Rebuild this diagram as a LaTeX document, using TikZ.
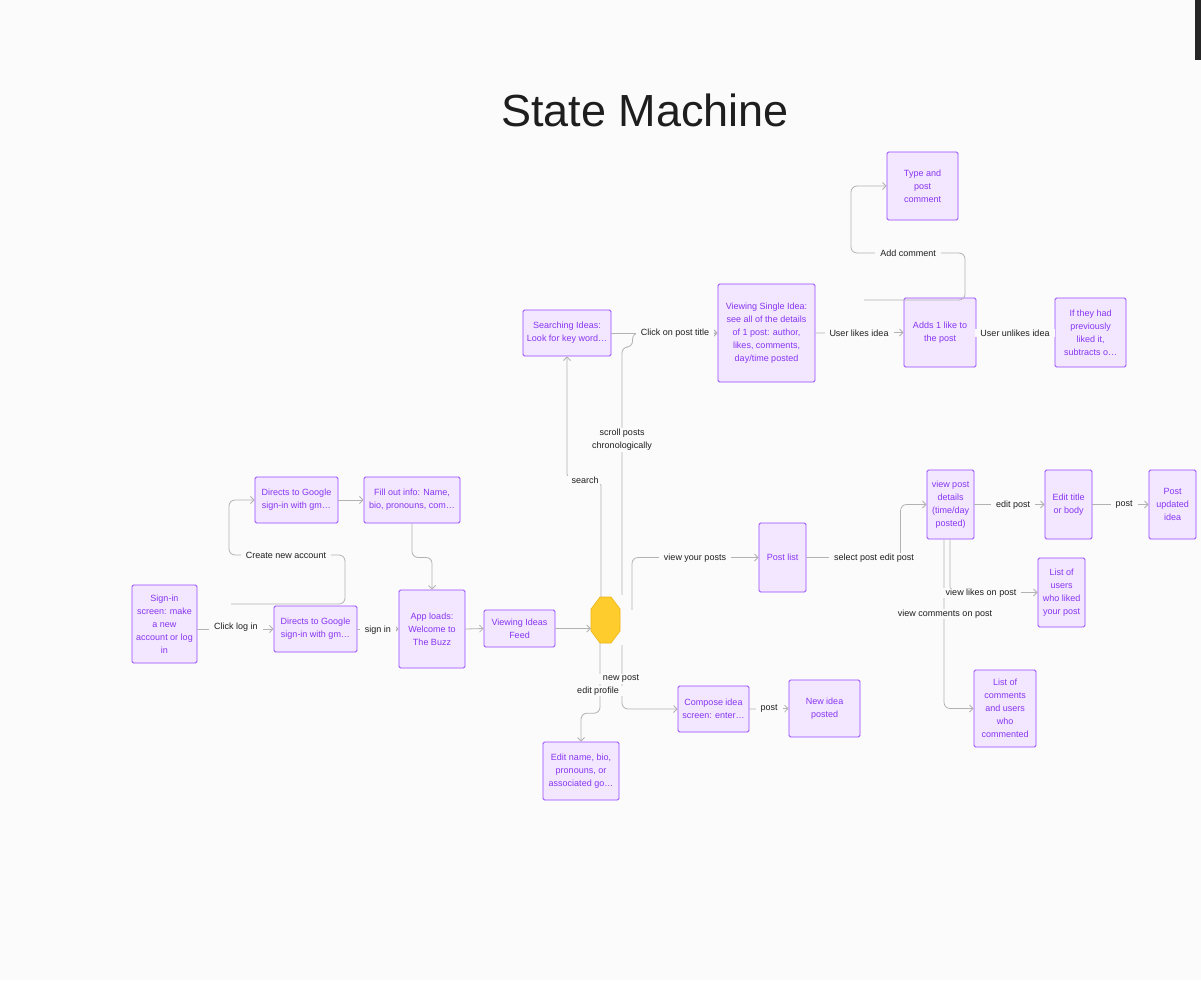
\documentclass[tikz,border=0pt]{standalone}
\usepackage{fontspec}
\setmainfont{Liberation Sans}
\usetikzlibrary{positioning}
\usetikzlibrary{calc}
\usetikzlibrary{arrows.meta}
\definecolor{bgcolor}{RGB}{251, 251, 251}
\definecolor{boxline}{RGB}{151, 71, 255}
\definecolor{boxfill}{RGB}{242, 231, 255}
\definecolor{boxtext}{RGB}{136, 52, 242}
\definecolor{connline}{RGB}{178, 178, 178}
\definecolor{lbltext}{RGB}{30, 30, 30}
\definecolor{hubfill}{RGB}{255, 204, 46}
\definecolor{hubline}{RGB}{238, 180, 20}
\tikzstyle{state} = [
	draw=boxline,
	fill=boxfill,
	text=boxtext,
	line width=0.9pt,
	rounded corners=1.5pt,
	inner sep=0pt,
	align=center,
	font=\fontsize{9}{13}\selectfont
]
\tikzstyle{conn} = [
	draw=connline,
	line width=0.8pt,
	rounded corners=6pt,
	-{Straight Barb[length=3.5pt,width=7pt]}
]
\tikzstyle{plain} = [
	draw=connline,
	line width=0.8pt,
	rounded corners=6pt
]
\tikzstyle{lbl} = [
	fill=bgcolor,
	text=lbltext,
	inner xsep=5pt,
	inner ysep=1pt,
	align=center,
	font=\fontsize{9}{13}\selectfont
]

\begin{document}
\begin{tikzpicture}[x=1pt, y=-1pt]

	\fill[bgcolor] (0,0) rectangle (1201,980);
	\useasboundingbox (0,0) rectangle (1201,980);
	\fill[black!85] (1195,0) rectangle (1201,60);

	%
	% Title
	\node[text=lbltext, font=\fontsize{45}{50}\selectfont] at (645,110) (Title) {State Machine};

	%
	% Sign in states
	\node[state, minimum width=65pt, minimum height=78pt] at (164.5,624) (SignIn) {Sign-in\\screen: make\\a new\\account or log\\in};
	\node[state, minimum width=83pt, minimum height=46pt] at (315.5,629) (Google_login) {Directs to Google\\sign-in with gm…};
	\node[state, minimum width=83pt, minimum height=46pt] at (296.5,500) (Google_new) {Directs to Google\\sign-in with gm…};
	\node[state, minimum width=96pt, minimum height=46pt] at (412,500) (FillInfo) {Fill out info: Name,\\bio, pronouns, com…};
	\node[state, minimum width=66pt, minimum height=78pt] at (432,629) (AppLoad) {App loads:\\Welcome to\\The Buzz};
	\node[state, minimum width=71pt, minimum height=37pt] at (519.5,628.5) (Feed) {Viewing Ideas\\Feed};
	\node[minimum width=29pt, minimum height=46pt, inner sep=0pt] at (605.5,620) (Hub) {};

	%
	% Ideas states
	\node[state, minimum width=88pt, minimum height=46pt] at (567,333) (Search) {Searching Ideas:\\Look for key word…};
	\node[state, minimum width=97pt, minimum height=98pt] at (766.5,333) (Single) {Viewing Single Idea:\\see all of the details\\of 1 post: author,\\likes, comments,\\day/time posted};
	\node[state, minimum width=71pt, minimum height=68pt] at (922.5,186) (Comment) {Type and\\post\\comment};
	\node[state, minimum width=72pt, minimum height=69pt] at (940,332.5) (Like) {Adds 1 like to\\the post};
	\node[state, minimum width=71pt, minimum height=69pt] at (1090.5,332.5) (Unlike) {If they had\\previously\\liked it,\\subtracts o…};

	%
	% Own posts states
	\node[state, minimum width=47pt, minimum height=69pt] at (782.5,557.5) (PostList) {Post list};
	\node[state, minimum width=47pt, minimum height=69pt] at (950.5,504.5) (Details) {view post\\details\\(time/day\\posted)};
	\node[state, minimum width=47pt, minimum height=69pt] at (1068.5,504.5) (EditPost) {Edit title\\or body};
	\node[state, minimum width=47pt, minimum height=69pt] at (1172.5,504.5) (Updated) {Post\\updated\\idea};
	\node[state, minimum width=47pt, minimum height=69pt] at (1061.5,592.5) (Likers) {List of\\users\\who liked\\your post};
	\node[state, minimum width=62pt, minimum height=77pt] at (1005,708.5) (Commenters) {List of\\comments\\and users\\who\\commented};

	%
	% New post and profile states
	\node[state, minimum width=71pt, minimum height=46pt] at (713.5,709) (Compose) {Compose idea\\screen: enter…};
	\node[state, minimum width=71pt, minimum height=57pt] at (824.5,708.5) (NewIdea) {New idea\\posted};
	\node[state, minimum width=76pt, minimum height=58pt] at (581,771) (EditProfile) {Edit name, bio,\\pronouns, or\\associated go…};

	%
	% Hub octagon
	\filldraw[fill=hubfill, draw=hubline, line width=0.6pt]
		([xshift=-5.5pt, yshift=23pt]Hub.center) -- ([xshift=5.5pt, yshift=23pt]Hub.center)
		-- ([xshift=14.5pt, yshift=11pt]Hub.center) -- ([xshift=14.5pt, yshift=-11pt]Hub.center)
		-- ([xshift=5.5pt, yshift=-23pt]Hub.center) -- ([xshift=-5.5pt, yshift=-23pt]Hub.center)
		-- ([xshift=-14.5pt, yshift=-11pt]Hub.center) -- ([xshift=-14.5pt, yshift=11pt]Hub.center) -- cycle;

	%
	% Arrows

	% sign in
	\coordinate (NewStart) at (231,604);
	\draw[conn] (SignIn.east |- Google_login.west) -- (Google_login.west);
	\draw[conn] (NewStart) -- (345,604) |- (229,555) |- (Google_new.west);
	\draw[conn] (Google_new.east) -- (FillInfo.west);
	\draw[conn] (FillInfo.south) -- ++(0,34) -| (AppLoad.north);
	\draw[conn] (Google_login.east) -- (AppLoad.west |- Google_login.east);
	\draw[conn] (AppLoad.east) -- (Feed.west);
	\draw[conn] (Feed.east) -- (Hub.west |- Feed.east);

	% hub
	\draw[conn] ([xshift=-4.5pt]Hub.north) -- ++(0,-117) -| (Search.south);
	\draw[conn] ([xshift=16.5pt, yshift=2pt]Hub.north) |- ([xshift=-85pt, yshift=-14pt]Single.west) |- (Single.west);
	\draw[conn] (Search.east) -- (Single.west);
	\draw[conn] ([xshift=26.5pt, yshift=-13pt]Hub.north) |- (PostList.west);
	\draw[conn] ([xshift=16.5pt, yshift=-2pt]Hub.south) |- (Compose.west);
	\draw[conn] ([xshift=-5.5pt]Hub.south) -- ++(0,70) -| (EditProfile.north);
	\draw[conn] (Compose.east) -- (NewIdea.west);

	% single idea
	\coordinate (CommentStart) at (864,300);
	\draw[conn] (Single.east) -- (Like.west);
	\draw[plain] (Like.east) -- (Unlike.west);
	\draw[conn] (CommentStart) -- (965,300) |- (851,253) |- (Comment.west);

	% own posts
	\draw[conn] (PostList.east) -| ([xshift=-26pt]Details.west) -- (Details.west);
	\draw[conn] (Details.east) -- (EditPost.west);
	\draw[conn] (EditPost.east) -- (Updated.west);
	\draw[conn] ([xshift=-0.5pt]Details.south) |- (Likers.west);
	\draw[conn] ([xshift=-6.5pt]Details.south) |- (Commenters.west);

	%
	% Labels
	\node[lbl] at (236,627) (L_login) {Click log in};
	\node[lbl] at (286,555) (L_new) {Create new account};
	\node[lbl] at (378,630) (L_signin) {sign in};
	\node[lbl] at (585,480) (L_search) {search};
	\node[lbl] at (622,440) (L_scroll) {scroll posts\\chronologically};
	\node[lbl] at (675,333) (L_title) {Click on post title};
	\node[lbl] at (859,333) (L_like) {User likes idea};
	\node[lbl] at (1015,333) (L_unlike) {User unlikes idea};
	\node[lbl] at (908,253) (L_comment) {Add comment};
	\node[lbl] at (695,558) (L_yours) {view your posts};
	\node[lbl] at (874,558) (L_select) {select post edit post};
	\node[lbl] at (1013,505) (L_edit) {edit post};
	\node[lbl] at (1124,505) (L_update) {post};
	\node[lbl] at (981,593) (L_likes) {view likes on post};
	\node[lbl] at (945,614) (L_comments) {view comments on post};
	\node[lbl] at (598,691) (L_profile) {edit profile};
	\node[lbl] at (621,679) (L_newpost) {new post};
	\node[lbl] at (769,709) (L_post) {post};

\end{tikzpicture}
\end{document}
